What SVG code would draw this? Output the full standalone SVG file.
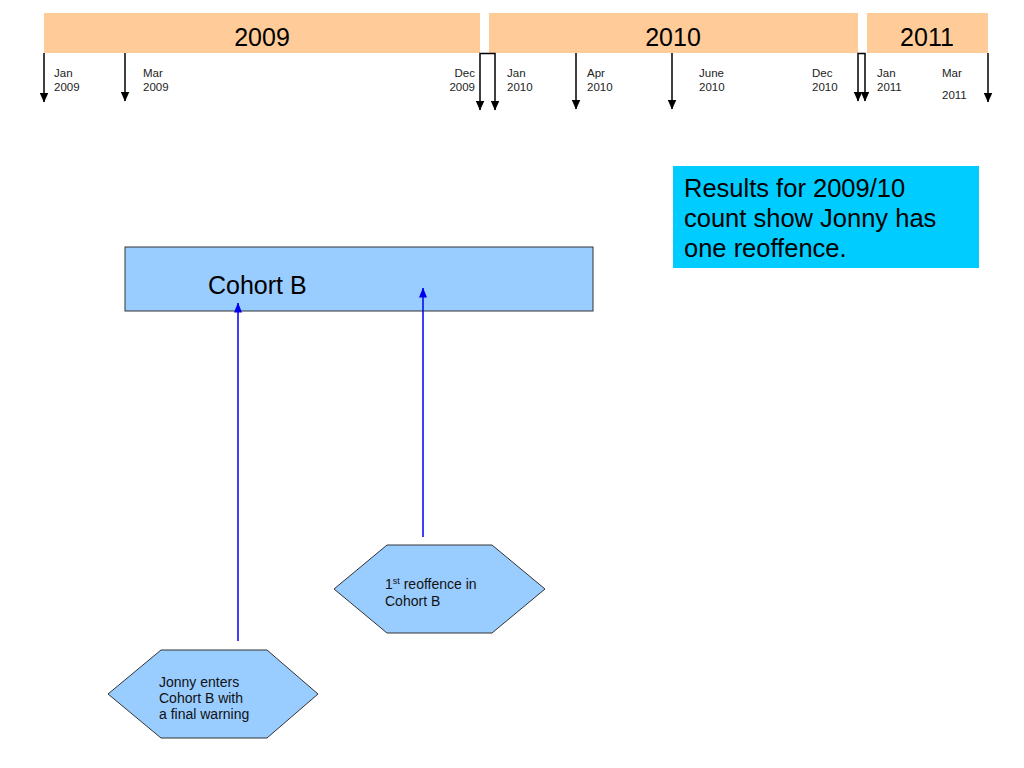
<svg xmlns="http://www.w3.org/2000/svg" width="1024" height="768" viewBox="0 0 1024 768">
<defs>
<style>
.bar{fill:#ffcc99;}
.yr{font-family:"Liberation Sans",Arial,sans-serif;font-size:25px;fill:#000;text-anchor:middle;}
.sm{font-family:"Liberation Sans",Arial,sans-serif;font-size:11.5px;fill:#222;}
.tl{stroke:#000;stroke-width:1.5;fill:none;}
.bl{stroke:#0000ee;stroke-width:1.5;fill:none;}
.node{fill:#99ccff;stroke:#333;stroke-width:1;}
.big{font-family:"Liberation Sans",Arial,sans-serif;font-size:25px;fill:#000;}
.hx{font-family:"Liberation Sans",Arial,sans-serif;font-size:14px;fill:#111;}
</style>
<marker id="ak" markerUnits="userSpaceOnUse" markerWidth="10" markerHeight="9" viewBox="0 0 10 9" refX="9.5" refY="4.5" orient="auto-start-reverse">
<path d="M0,0 L10,4.5 L0,9 z" fill="#000"/>
</marker>
<marker id="ab" markerUnits="userSpaceOnUse" markerWidth="10" markerHeight="8" viewBox="0 0 10 8" refX="9.5" refY="4" orient="auto">
<path d="M0,0 L10,4 L0,8 z" fill="#0000ee"/>
</marker>
</defs>
<rect width="1024" height="768" fill="#fff"/>

<g id="year-2009">
<rect class="bar" x="44" y="13" width="436" height="40"/>
<text class="yr" x="262" y="46">2009</text>
</g>
<g id="year-2010">
<rect class="bar" x="489" y="13" width="369" height="40"/>
<text class="yr" x="673" y="46">2010</text>
</g>
<g id="year-2011">
<rect class="bar" x="867" y="13" width="121" height="40"/>
<text class="yr" x="927" y="46">2011</text>
</g>

<g id="month-labels">
<text class="sm" x="54" y="77">Jan</text><text class="sm" x="54" y="91">2009</text>
<text class="sm" x="143" y="77">Mar</text><text class="sm" x="143" y="91">2009</text>
<text class="sm" x="475" y="77" text-anchor="end">Dec</text><text class="sm" x="475" y="91" text-anchor="end">2009</text>
<text class="sm" x="507" y="77">Jan</text><text class="sm" x="507" y="91">2010</text>
<text class="sm" x="587" y="77">Apr</text><text class="sm" x="587" y="91">2010</text>
<text class="sm" x="699" y="77">June</text><text class="sm" x="699" y="91">2010</text>
<text class="sm" x="812" y="77">Dec</text><text class="sm" x="812" y="91">2010</text>
<text class="sm" x="877" y="77">Jan</text><text class="sm" x="877" y="91">2011</text>
<text class="sm" x="942" y="77">Mar</text><text class="sm" x="942" y="99">2011</text>
</g>

<g id="results">
<rect x="673" y="166" width="306" height="102" fill="#00ccff"/>
<text class="big" style="font-size:25.5px" x="684" y="197">Results for 2009/10</text>
<text class="big" style="font-size:25.5px" x="684" y="227">count show Jonny has</text>
<text class="big" style="font-size:25.5px" x="684" y="257">one reoffence.</text>
</g>

<g id="cohort-b">
<rect class="node" x="125" y="247" width="468" height="64"/>
<text class="big" x="208" y="294">Cohort B</text>
</g>

<g id="reoffence">
<polygon class="node" points="334,589 387,545 492,545 545,589 492,633 387,633"/>
<text class="hx" x="385" y="589">1<tspan font-size="9" dy="-5">st</tspan><tspan dy="5"> reoffence in</tspan></text>
<text class="hx" x="385" y="606">Cohort B</text>
</g>

<g id="jonny-enters">
<polygon class="node" points="108,694 161,650 267,650 318,694 267,738 161,738"/>
<text class="hx" x="159" y="687">Jonny enters</text>
<text class="hx" x="159" y="703">Cohort B with</text>
<text class="hx" x="159" y="719">a final warning</text>
</g>

<g id="connectors">
<line class="tl" x1="44" y1="53" x2="44" y2="102" marker-end="url(#ak)"/>
<line class="tl" x1="125" y1="53" x2="125" y2="101" marker-end="url(#ak)"/>
<path class="tl" d="M480,110 L480,53.5 L495,53.5 L495,110" marker-start="url(#ak)" marker-end="url(#ak)"/>
<line class="tl" x1="576" y1="53" x2="576" y2="109" marker-end="url(#ak)"/>
<line class="tl" x1="672" y1="53" x2="672" y2="109" marker-end="url(#ak)"/>
<path class="tl" d="M858,101 L858,53.5 L865,53.5 L865,101" marker-start="url(#ak)" marker-end="url(#ak)"/>
<line class="tl" x1="988" y1="53" x2="988" y2="102" marker-end="url(#ak)"/>
<line class="bl" x1="238" y1="641" x2="238" y2="303" marker-end="url(#ab)"/>
<line class="bl" x1="423" y1="537" x2="423" y2="288" marker-end="url(#ab)"/>
</g>
</svg>
